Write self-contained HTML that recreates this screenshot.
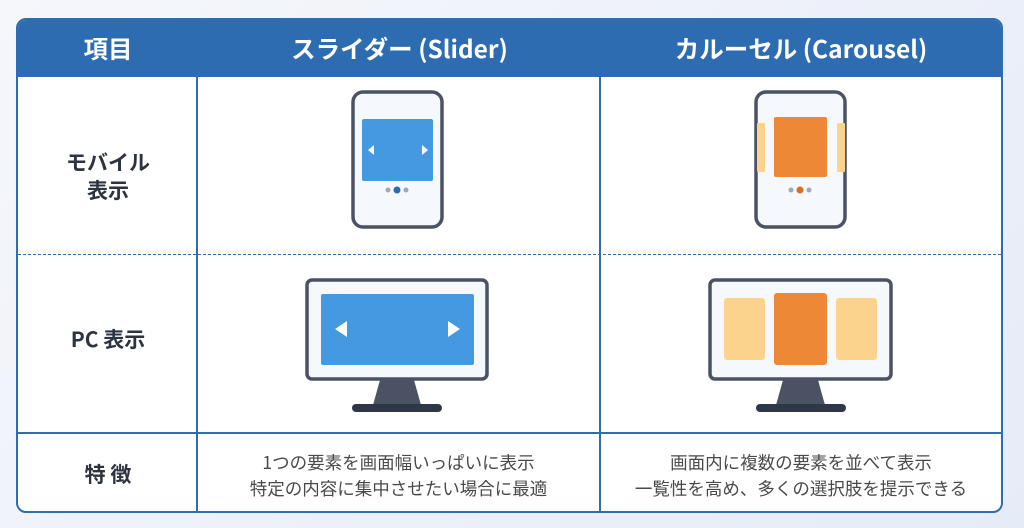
<!DOCTYPE html>
<html><head><meta charset="utf-8"><style>
body{margin:0;width:1024px;height:528px;background:linear-gradient(135deg,#f5f7fb,#e6ebf8);font-family:"Noto Sans CJK JP","Liberation Sans",sans-serif;position:relative;overflow:hidden}
.t{position:absolute;left:16px;top:18px;width:983px;height:491px;border:2px solid #2d6db0;border-radius:10px;background:#fff;overflow:hidden}
.h{position:absolute;left:0;top:0;width:100%;height:57px;background:#2d6cb0}
.ht{position:absolute;top:0;height:57px;line-height:57px;color:#fff;font-weight:bold;font-size:24.5px;text-align:center}
.v{position:absolute;top:57px;bottom:0;width:2px;background:#2d6db0}
.lab{position:absolute;left:0;width:180px;text-align:center;font-weight:bold;font-size:21px;color:#2d3440;line-height:28px}
.d{position:absolute;color:#4a4a4a;font-size:17.5px;text-align:center;line-height:26px;white-space:nowrap}
</style></head><body>
<div class="t">
<div class="h"></div>
<div class="ht" style="left:0;width:180px">項目</div>
<div class="ht" style="left:180px;width:403px">スライダー (Slider)</div>
<div class="ht" style="left:583px;width:400px">カルーセル (Carousel)</div>
<div class="v" style="left:178px"></div>
<div class="v" style="left:581px"></div>
<div style="position:absolute;left:0;right:0;top:234px;border-top:1.5px dashed #2d6db0"></div>
<div style="position:absolute;left:0;right:0;top:412px;height:2px;background:#2d6db0"></div>
<div class="lab" style="top:128px">モバイル<br>表示</div>
<div class="lab" style="top:305px">PC 表示</div>
<div class="lab" style="top:440px">特 徴</div>
<div class="d" style="left:180px;width:401px;top:430px">1つの要素を画面幅いっぱいに表示<br>特定の内容に集中させたい場合に最適</div>
<div class="d" style="left:583px;width:400px;top:430px">画面内に複数の要素を並べて表示<br>一覧性を高め、多くの選択肢を提示できる</div>
</div>
<svg width="1024" height="528" style="position:absolute;left:0;top:0">
<rect x="353" y="92" width="89" height="135" rx="10" fill="#f5f8fc" stroke="#4a5263" stroke-width="3.5"/>
<rect x="362" y="119" width="71" height="62" rx="2" fill="#4499e0"/>
<polygon points="368,150 374,145 374,155" fill="#fff"/><polygon points="428,150 422,145 422,155" fill="#fff"/>
<circle cx="388" cy="190" r="2.5" fill="#a0a8b4"/><circle cx="397" cy="190" r="3.5" fill="#2d6cb0"/><circle cx="406" cy="190" r="2.5" fill="#a0a8b4"/>
<rect x="756" y="92" width="89" height="135" rx="10" fill="#f5f8fc" stroke="#4a5263" stroke-width="3.5"/>
<rect x="757" y="123" width="8" height="49" rx="1" fill="#fcd38d"/><rect x="837" y="123" width="8" height="49" rx="1" fill="#fcd38d"/>
<rect x="774" y="117" width="53" height="60" rx="2" fill="#ed8936"/>
<circle cx="791" cy="190" r="2.5" fill="#a0a8b4"/><circle cx="800" cy="190" r="3.5" fill="#dd6b20"/><circle cx="809" cy="190" r="2.5" fill="#a0a8b4"/>
<rect x="307" y="280" width="180" height="99" rx="5" fill="#f5f8fc" stroke="#4a5263" stroke-width="3.5"/>
<rect x="321" y="294" width="153" height="71" rx="2" fill="#4499e0"/>
<polygon points="335,329 347,321 347,337" fill="#fff"/><polygon points="460,329 448,321 448,337" fill="#fff"/>
<polygon points="380,380 414,380 421,405 373,405" fill="#4a5263"/><rect x="352" y="404" width="90" height="8" rx="4" fill="#2d3748"/>
<rect x="710" y="280" width="181" height="99" rx="5" fill="#f5f8fc" stroke="#4a5263" stroke-width="3.5"/>
<rect x="724" y="298" width="41" height="62" rx="3" fill="#fcd38d"/><rect x="836" y="298" width="41" height="62" rx="3" fill="#fcd38d"/>
<rect x="774" y="293" width="53" height="72" rx="3" fill="#ed8936"/>
<polygon points="783,380 818,380 825,405 776,405" fill="#4a5263"/><rect x="756" y="404" width="90" height="8" rx="4" fill="#2d3748"/>
</svg>
</body></html>
